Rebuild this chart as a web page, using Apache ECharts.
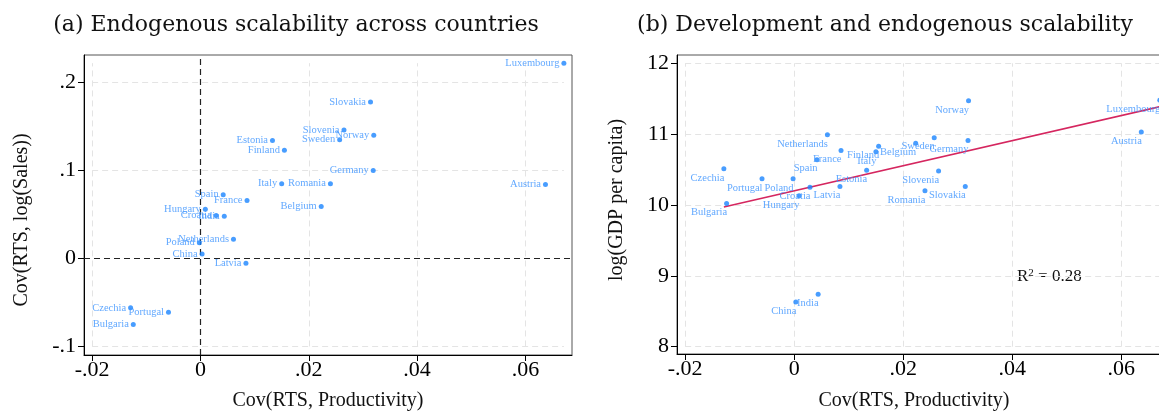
<!DOCTYPE html>
<html><head><meta charset="utf-8">
<script src="https://cdn.jsdelivr.net/npm/echarts@6/dist/echarts.min.js"></script>
<style>html,body{margin:0;padding:0;background:#fff}#c{width:1159px;height:411px}</style>
</head><body><div id="c"></div>
<script>
// ---------- data ----------
const countries = ['Luxembourg','Austria','Slovakia','Slovenia','Norway','Sweden','Estonia','Finland','Germany','Italy','Romania','Belgium','Spain','France','Hungary','Croatia','India','Netherlands','Poland','China','Latvia','Czechia','Portugal','Bulgaria'];
const covProd  = [0.0671,0.0637,0.0314,0.0265,0.0320,0.0257,0.0133,0.0155,0.0319,0.0150,0.0240,0.0223,0.0042,0.0086,0.0009,0.0029,0.0044,0.0061,-0.0002,0.0003,0.0084,-0.0129,-0.0059,-0.0124];
const covSales = [0.222,0.084,0.178,0.146,0.140,0.135,0.134,0.123,0.100,0.085,0.085,0.059,0.0725,0.066,0.056,0.049,0.048,0.022,0.018,0.005,-0.0055,-0.056,-0.061,-0.075];
const logGdp   = [11.48,11.03,10.26,10.48,11.47,10.95,10.49,10.83,10.91,10.75,10.20,10.87,10.64,10.77,10.13,10.25,8.74,10.99,10.37,8.63,10.26,10.51,10.37,10.02];
const xTicks  = [-0.02, 0, 0.02, 0.04, 0.06];
const yTicksA = [-0.1, 0, 0.1, 0.2];
const yTicksB = [8, 9, 10, 11, 12];
const xRange  = [-0.0215, 0.0686];
const yRangeA = [-0.1097, 0.2313];
const yRangeB = [7.897, 12.117];
const r2Value = '0.28';
const titleA = '(a) Endogenous scalability across countries';
const titleB = '(b) Development and endogenous scalability';
const xTitle = 'Cov(RTS, Productivity)';
const yTitleA = 'Cov(RTS, log(Sales))';
const yTitleB = 'log(GDP per capita)';

// ---------- helpers ----------
function fmt(v){ if (Math.abs(v) < 1e-12) return '0'; return String(+v.toFixed(4)).replace(/^(-?)0\./, '$1.'); }
const SERIF = '"Liberation Serif", "DejaVu Serif", serif';
const DOT = '#1a85ff', LAB = '#3a92ff', GRID = '#e4e4e4';

// OLS fit for panel (b)
const n = covProd.length;
const mx = covProd.reduce((a,b)=>a+b,0)/n, my = logGdp.reduce((a,b)=>a+b,0)/n;
let sxy=0, sxx=0; for (let i=0;i<n;i++){ sxy+=(covProd[i]-mx)*(logGdp[i]-my); sxx+=(covProd[i]-mx)**2; }
const slope = sxy/sxx, icpt = my - slope*mx;
const xMin = Math.min(...covProd), xMax = Math.max(...covProd);
const fitLine = [[xMin, icpt+slope*xMin],[xMax, icpt+slope*xMax]];

// inner plot region (gridline extent)
const inX = [Math.min(xMin, xTicks[0]), Math.max(xMax, xTicks[xTicks.length-1])];
const inYA = [Math.min(...covSales, yTicksA[0]), Math.max(...covSales, yTicksA[yTicksA.length-1])];
const inYB = [Math.min(...logGdp, yTicksB[0]), Math.max(...logGdp, yTicksB[yTicksB.length-1])];

function gridLines(ticksX, ticksY, yr, skipZero){
  const d = [];
  ticksX.forEach(v=>{ if(!(skipZero && v===0)) d.push({coords:[[v, yr[0]],[v, yr[1]]]}); });
  ticksY.forEach(v=>{ if(!(skipZero && v===0)) d.push({coords:[[inX[0], v],[inX[1], v]]}); });
  return d;
}

function xAxisCfg(gi){
  return {type:'value', gridIndex:gi, min:xRange[0], max:xRange[1],
    axisLine:{show:true, onZero:false, lineStyle:{color:'#000', width:1}},
    axisTick:{show:true, length:6, customValues:xTicks, lineStyle:{color:'#000'}},
    axisLabel:{customValues:xTicks, formatter:fmt, fontFamily:SERIF, fontSize:22, color:'#000', margin:4},
    splitLine:{show:false}};
}
function yAxisCfg(gi, r, ticks){
  return {type:'value', gridIndex:gi, min:r[0], max:r[1],
    axisLine:{show:true, onZero:false, lineStyle:{color:'#000', width:1}},
    axisTick:{show:true, length:6, customValues:ticks, lineStyle:{color:'#000'}},
    axisLabel:{customValues:ticks, formatter:fmt, fontFamily:SERIF, fontSize:22, color:'#000', margin:8},
    splitLine:{show:false}};
}

const chart = echarts.init(document.getElementById('c'), null, {renderer:'canvas'});
chart.setOption({
  animation:false,
  backgroundColor:'#fff',
  grid:[
    {left:84, top:55, width:488, height:300, show:true, borderColor:'#555', borderWidth:1, backgroundColor:'transparent', containLabel:false, outerBoundsMode:'none'},
    {left:677, top:55, width:491, height:299, show:true, borderColor:'#555', borderWidth:1, backgroundColor:'transparent', containLabel:false, outerBoundsMode:'none'}
  ],
  xAxis:[xAxisCfg(0), xAxisCfg(1)],
  yAxis:[yAxisCfg(0, yRangeA, yTicksA), yAxisCfg(1, yRangeB, yTicksB)],
  series:[
    {type:'lines', coordinateSystem:'cartesian2d', xAxisIndex:0, yAxisIndex:0, silent:true, z:1,
     lineStyle:{color:GRID, width:1, type:[6,4], opacity:1},
     data:gridLines(xTicks, yTicksA, inYA, true)},
    {type:'lines', coordinateSystem:'cartesian2d', xAxisIndex:0, yAxisIndex:0, silent:true, z:2,
     lineStyle:{color:'#222', width:1.2, type:[6,4], opacity:1},
     data:[{coords:[[0, yRangeA[0]],[0, yRangeA[1]]]},{coords:[[xRange[0],0],[xRange[1],0]]}]},
    {type:'lines', coordinateSystem:'cartesian2d', xAxisIndex:1, yAxisIndex:1, silent:true, z:1,
     lineStyle:{color:GRID, width:1, type:[6,4], opacity:1},
     data:gridLines(xTicks, yTicksB, inYB, false)},
    {type:'scatter', xAxisIndex:0, yAxisIndex:0, symbolSize:5, z:5,
     itemStyle:{color:DOT},
     data:countries.map((c,i)=>[covProd[i], covSales[i], c]),
     label:{show:true, formatter:p=>p.data[2], position:'left', distance:2,
            fontFamily:SERIF, fontSize:10.5, color:LAB}},
    {type:'line', xAxisIndex:1, yAxisIndex:1, symbol:'none', z:4, silent:true,
     lineStyle:{color:'#d5265f', width:1.5}, data:fitLine},
    {type:'scatter', xAxisIndex:1, yAxisIndex:1, symbolSize:5, z:5,
     itemStyle:{color:DOT},
     data:countries.map((c,i)=>[covProd[i], logGdp[i], c]),
     label:{show:true, formatter:p=>p.data[2], position:'left', distance:0, offset:[3,9],
            fontFamily:SERIF, fontSize:10.5, color:LAB}}
  ],
  graphic:[
    {type:'text', x:296, y:25, style:{text:titleA, font:'22px "DejaVu Serif"', fill:'#111', align:'center', verticalAlign:'middle'}},
    {type:'text', x:885, y:25, style:{text:titleB, font:'22px "DejaVu Serif"', fill:'#111', align:'center', verticalAlign:'middle'}},
    {type:'text', x:328, y:401, style:{text:xTitle, font:'20px "Liberation Serif"', fill:'#111', align:'center', verticalAlign:'middle'}},
    {type:'text', x:914, y:401, style:{text:xTitle, font:'20px "Liberation Serif"', fill:'#111', align:'center', verticalAlign:'middle'}},
    {type:'text', x:22, y:220, rotation:Math.PI/2, style:{text:yTitleA, font:'20px "Liberation Serif"', fill:'#111', align:'center', verticalAlign:'middle'}},
    {type:'text', x:617, y:200, rotation:Math.PI/2, style:{text:yTitleB, font:'20px "Liberation Serif"', fill:'#111', align:'center', verticalAlign:'middle'}},
    {type:'text', x:1017, y:277, style:{text:'R{s|2} = ' + r2Value, font:'17px "Liberation Serif"', fill:'#111', align:'left', verticalAlign:'middle',
      rich:{s:{fontSize:11, fontFamily:'Liberation Serif', verticalAlign:'top', padding:[0,0,8,0]}}}}
  ]
});
</script></body></html>
